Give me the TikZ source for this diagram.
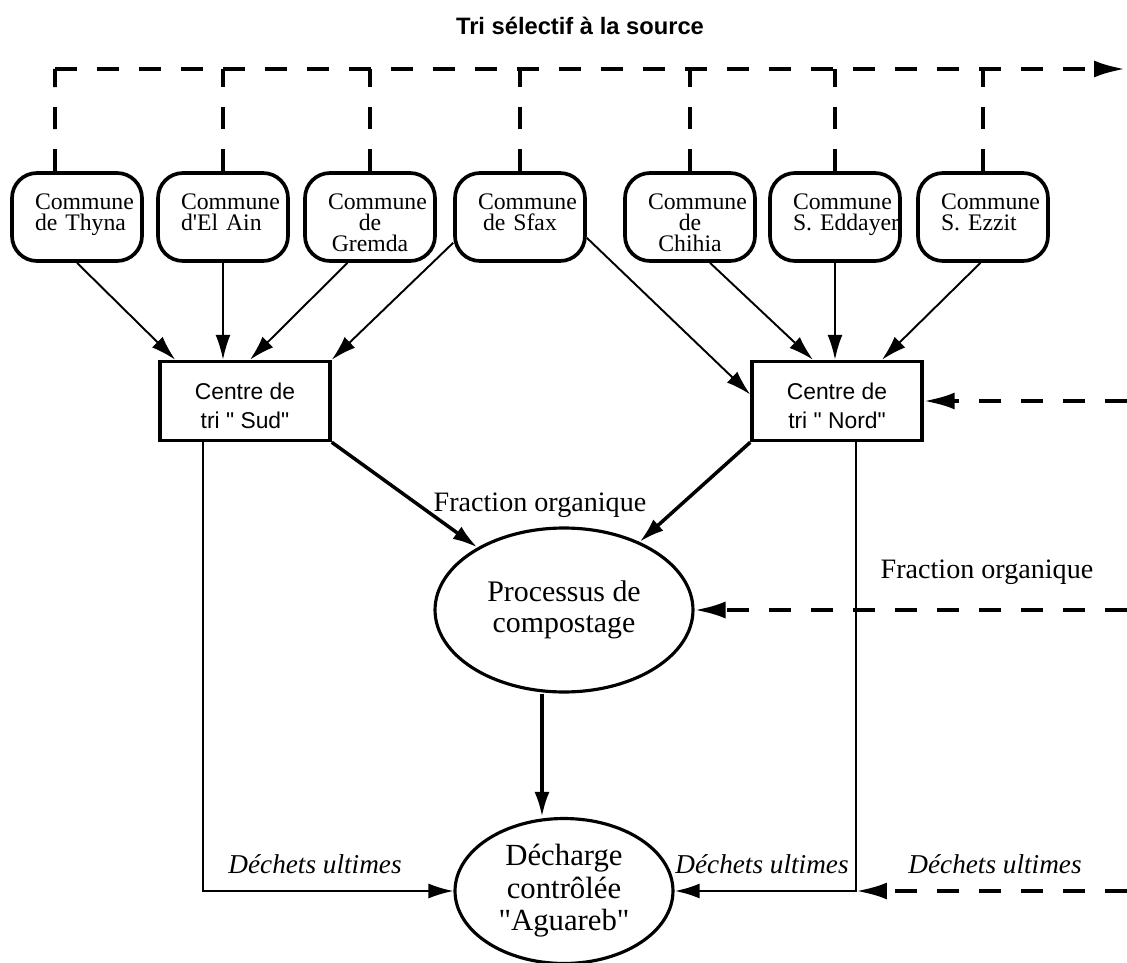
\documentclass[tikz,border=0pt]{standalone}
\usepackage{fontspec}
\defaultfontfeatures[\rmfamily,\sffamily]{}
\setmainfont{Liberation Serif}
\setsansfont{Liberation Sans}
\hyphenpenalty=10000
\usetikzlibrary{arrows.meta, shapes.geometric, calc}
\tikzset{
  every picture/.style={line width=1.1pt},
  commune/.style={draw, line width=2.1pt, rounded corners=0.5cm, text width=1.68cm, inner xsep=0.46cm, minimum height=1.76cm, align=#1, font=\fontsize{13.5}{12}\selectfont},
  commune/.default=left,
  centre/.style={draw, line width=2pt, minimum width=3.4cm, minimum height=1.58cm, align=center, font=\sffamily\fontsize{13}{16.5}\selectfont},
  process/.style={draw, ellipse, line width=1.8pt, inner sep=0pt, align=center},
  flow/.style={-{Latex[length=0.5cm, width=0.3cm]}, line width=1.1pt},
  bigflow/.style={flow, line width=2pt},
  dashline/.style={line width=2.2pt, dash pattern=on 0.44cm off 0.4cm},
  dashflow/.style={-{Latex[length=0.62cm, width=0.34cm]}},
  tag/.style={font=\fontsize{16}{18}\selectfont},
  waste/.style={font=\itshape\fontsize{15.5}{18}\selectfont},
}
\newcommand{\toprule}{\rule{0pt}{15.5pt}}
\begin{document}
\begin{tikzpicture}[x=0.02cm, y=-0.02cm]
  \useasboundingbox (0,0) rectangle (1127,963);
  \node[font=\sffamily\bfseries\fontsize{13.5}{16}\selectfont] (title) at (580,26) {Tri sélectif à la source};

  % les communes
  \node[commune] (thyna) at (77,217) {\toprule Commune\\de~Thyna\\\mbox{}};
  \node[commune] (elain) at (223,217) {\toprule Commune\\d'El~Ain\\\mbox{}};
  \node[commune=center] (gremda) at (370,217) {\toprule Commune\\de\\Gremda};
  \node[commune=center] (sfax) at (520,217) {\toprule Commune\\de~Sfax\\\mbox{}};
  \node[commune=center] (chihia) at (690,217) {\toprule Commune\\de\\Chihia};
  \node[commune] (eddayer) at (835,217) {\toprule Commune\\S.~Eddayer\\\mbox{}};
  \node[commune] (ezzit) at (983,217) {\toprule Commune\\S.~Ezzit\\\mbox{}};

  % tri a la source
  \coordinate (topL) at (55,69);
  \coordinate (topR) at (1125,69);
  \draw[dashline, dashflow] (topL) -- (topR);
  \draw[dashline] ([xshift=-0.44cm]thyna.north) -- (topL);
  \foreach \c in {elain, gremda, sfax, chihia, eddayer, ezzit}
    \draw[dashline] (\c.north) -- (\c.north |- topL);

  % centres de tri
  \node[centre] (sud) at (245,401) {\rule{0pt}{14.5pt}Centre de\\tri " Sud"};
  \node[centre] (nord) at (837,401) {\rule{0pt}{14.5pt}Centre de\\tri " Nord"};

  \draw[flow] (thyna.south) -- ([xshift=0.34cm]sud.north west);
  \draw[flow] (elain.south) -- (elain.south |- sud.north);
  \draw[flow] ([xshift=-0.45cm]gremda.south) -- ([xshift=0.1cm]sud.north);
  \draw[flow] ([yshift=0.4cm]sfax.south west) -- (sud.north east);
  \draw[flow] ([yshift=0.5cm]sfax.south east) -- ([yshift=0.13cm]nord.west);
  \draw[flow] ([xshift=0.4cm]chihia.south) -- ([xshift=-0.48cm]nord.north);
  \draw[flow] (eddayer.south) -- (eddayer.south |- nord.north);
  \draw[flow] ([xshift=-0.05cm]ezzit.south) -- ([xshift=0.9cm]nord.north);

  % compostage et decharge
  \node[process, minimum width=5.16cm, minimum height=3.28cm, font=\fontsize{17}{18}\selectfont] (proc) at (564,610) {Processus de\\compostage};
  \node[process, minimum width=4.36cm, minimum height=2.9cm, font=\fontsize{17.5}{18.5}\selectfont] (dech) at (564,891) {Décharge\\contrôlée\\"Aguareb"};

  \draw[bigflow] (sud.south east) -- (proc);
  \draw[bigflow] (nord.south west) -- (proc);
  \draw[bigflow] ([xshift=-0.44cm]proc.south) -- ([xshift=-0.44cm]dech.north);
  \node[tag] (fracL) at (540,505) {Fraction organique};
  \node[tag] (fracR) at (987,572) {Fraction organique};

  \coordinate (edgeN) at (1127,401);
  \coordinate (edgeP) at (1127,610);
  \coordinate (edgeD) at (1127,891);
  \draw[dashline, dashflow] (edgeN) -- (nord.east);
  \draw[dashline, dashflow] (edgeP) -- (proc.east);

  \coordinate (sudout) at ([xshift=-0.84cm]sud.south);
  \coordinate (nordout) at ([xshift=0.38cm]nord.south);
  \coordinate (joinN) at (nordout |- dech.west);
  \draw[flow] (sudout) |- (dech);
  \draw[flow, line width=1.6pt] (nordout) -- (joinN) -- (dech);
  \draw[dashline, dashflow] (edgeD) -- (joinN);

  \node[waste] (wasteL) at (315,864) {Déchets ultimes};
  \node[waste] (wasteM) at (762,864) {Déchets ultimes};
  \node[waste] (wasteR) at (995,864) {Déchets ultimes};
\end{tikzpicture}
\end{document}
